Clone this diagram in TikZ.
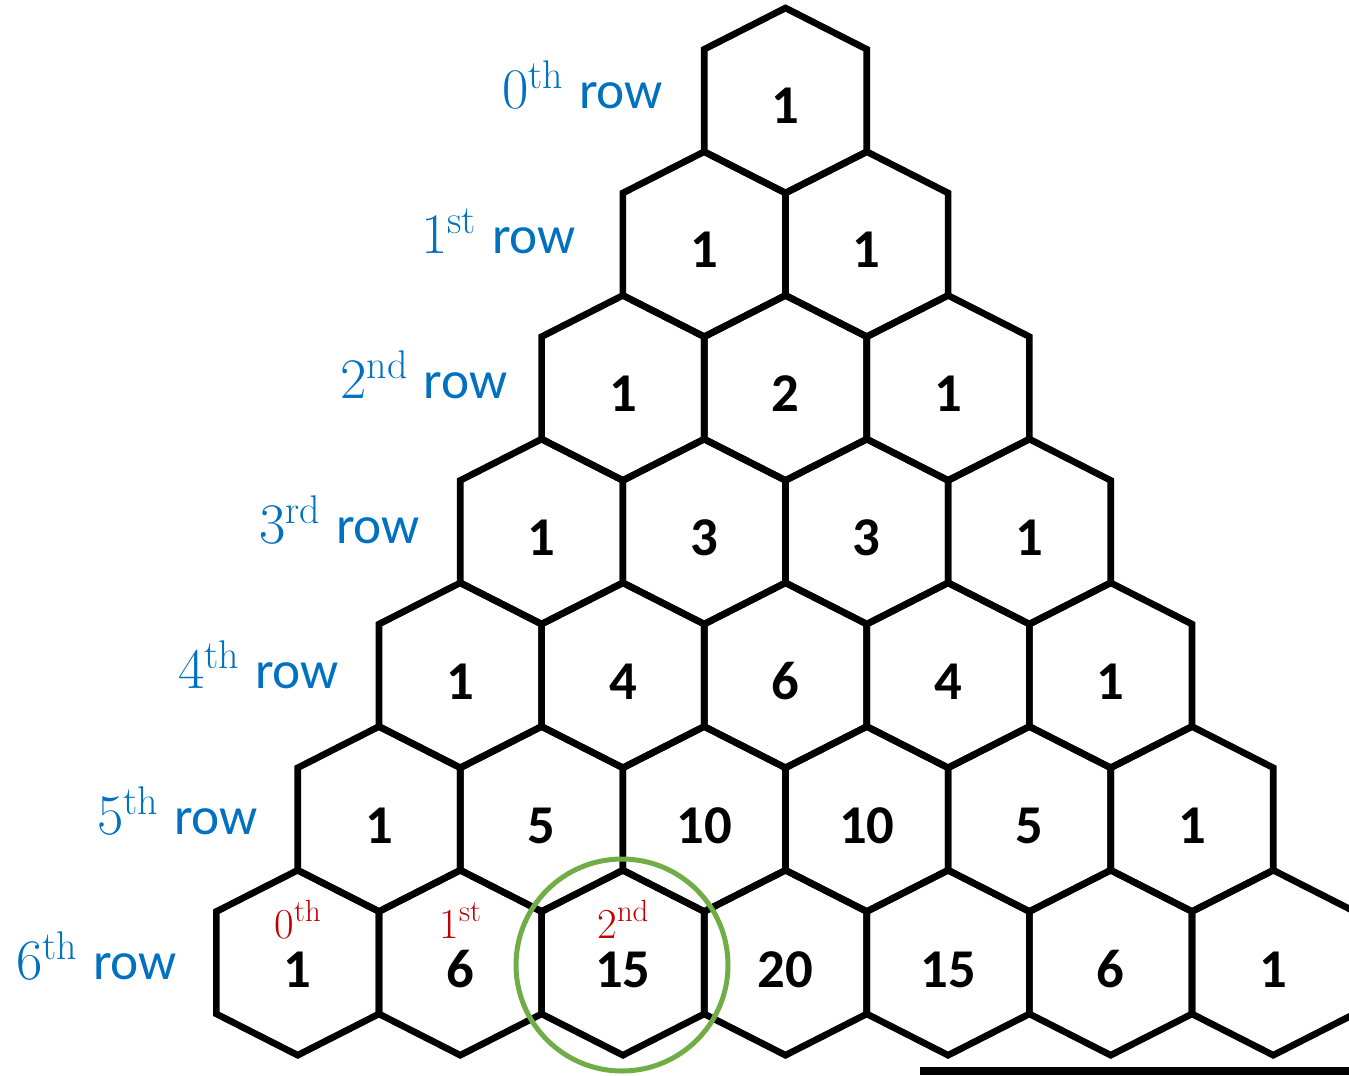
\documentclass[tikz,border=0pt]{standalone}
\usepackage{fontspec}
\newfontfamily\calf{Carlito}
\newfontfamily\lmr{Latin Modern Roman}
\definecolor{rowblue}{HTML}{0070C0}
\definecolor{supred}{HTML}{C00000}
\definecolor{circgreen}{HTML}{70AD47}
\tikzset{
  hexline/.style={line width=5pt, line join=miter, draw=black},
  num/.style={font=\calf\bfseries\fontsize{41}{41}\selectfont, anchor=base, inner sep=0pt},
  rowlab/.style={text=rowblue, anchor=base west, inner sep=0pt},
  idx/.style={text=supred, anchor=base, inner sep=0pt},
}
\newcommand{\rowtext}[2]{{\lmr\fontsize{43}{43}\selectfont #1\raisebox{15pt}{\fontsize{30}{30}\selectfont #2}}\hspace{12pt}{\calf\fontsize{40}{40}\selectfont row}}
\newcommand{\idxtext}[2]{{\lmr\fontsize{32}{32}\selectfont #1\raisebox{13pt}{\fontsize{23}{23}\selectfont #2}}}
\begin{document}
\begin{tikzpicture}[x=0.75pt,y=-0.75pt]
\useasboundingbox (0,0) rectangle (1349,1075);
\foreach \k/\i/\v in {0/0/1,
  1/0/1,1/1/1,
  2/0/1,2/1/2,2/2/1,
  3/0/1,3/1/3,3/2/3,3/3/1,
  4/0/1,4/1/4,4/2/6,4/3/4,4/4/1,
  5/0/1,5/1/5,5/2/10,5/3/10,5/4/5,5/5/1,
  6/0/1,6/1/6,6/2/15,6/3/20,6/4/15,6/5/6,6/6/1}{
  \pgfmathsetmacro\cx{785.5+(\i-\k/2)*162.6}
  \pgfmathsetmacro\cy{100.5+\k*143.7}
  \draw[hexline] (\cx,\cy-92.5) -- (\cx+81.3,\cy-51.2) -- (\cx+81.3,\cy+51.2) -- (\cx,\cy+92.5) -- (\cx-81.3,\cy+51.2) -- (\cx-81.3,\cy-51.2) -- cycle;
  \node[num] (h\k-\i) at (\cx,\cy+23+0.25*\k) {\v};
}
% row labels
\foreach \k/\d/\s in {0/0/th,1/1/st,2/2/nd,3/3/rd,4/4/th,5/5/th,6/6/th}{
  \pgfmathsetmacro\lx{502-81*\k}
  \pgfmathsetmacro\ly{100.5+\k*143.7+8+1.4*\k}
  \node[rowlab] (lab\k) at (\lx,\ly) {\rowtext{\d}{\s}};
}
% red index labels in row 6
\node[idx] (r0) at (h6-0.base) [yshift=36.5pt] {\idxtext{0}{th}};
\node[idx] (r1) at (h6-1.base) [yshift=36.5pt] {\idxtext{1}{st}};
\node[idx] (r2) at (h6-2.base) [yshift=36.5pt] {\idxtext{2}{nd}};
% green circle
\node[circle, draw=circgreen, line width=3.75pt, minimum size=159pt, inner sep=0pt] (focus) at (622,965) {};
% bottom line
\coordinate (bl) at (920,1071);
\coordinate (br) at (1349,1071);
\draw[line width=6pt] (bl) -- (br);
\end{tikzpicture}
\end{document}
